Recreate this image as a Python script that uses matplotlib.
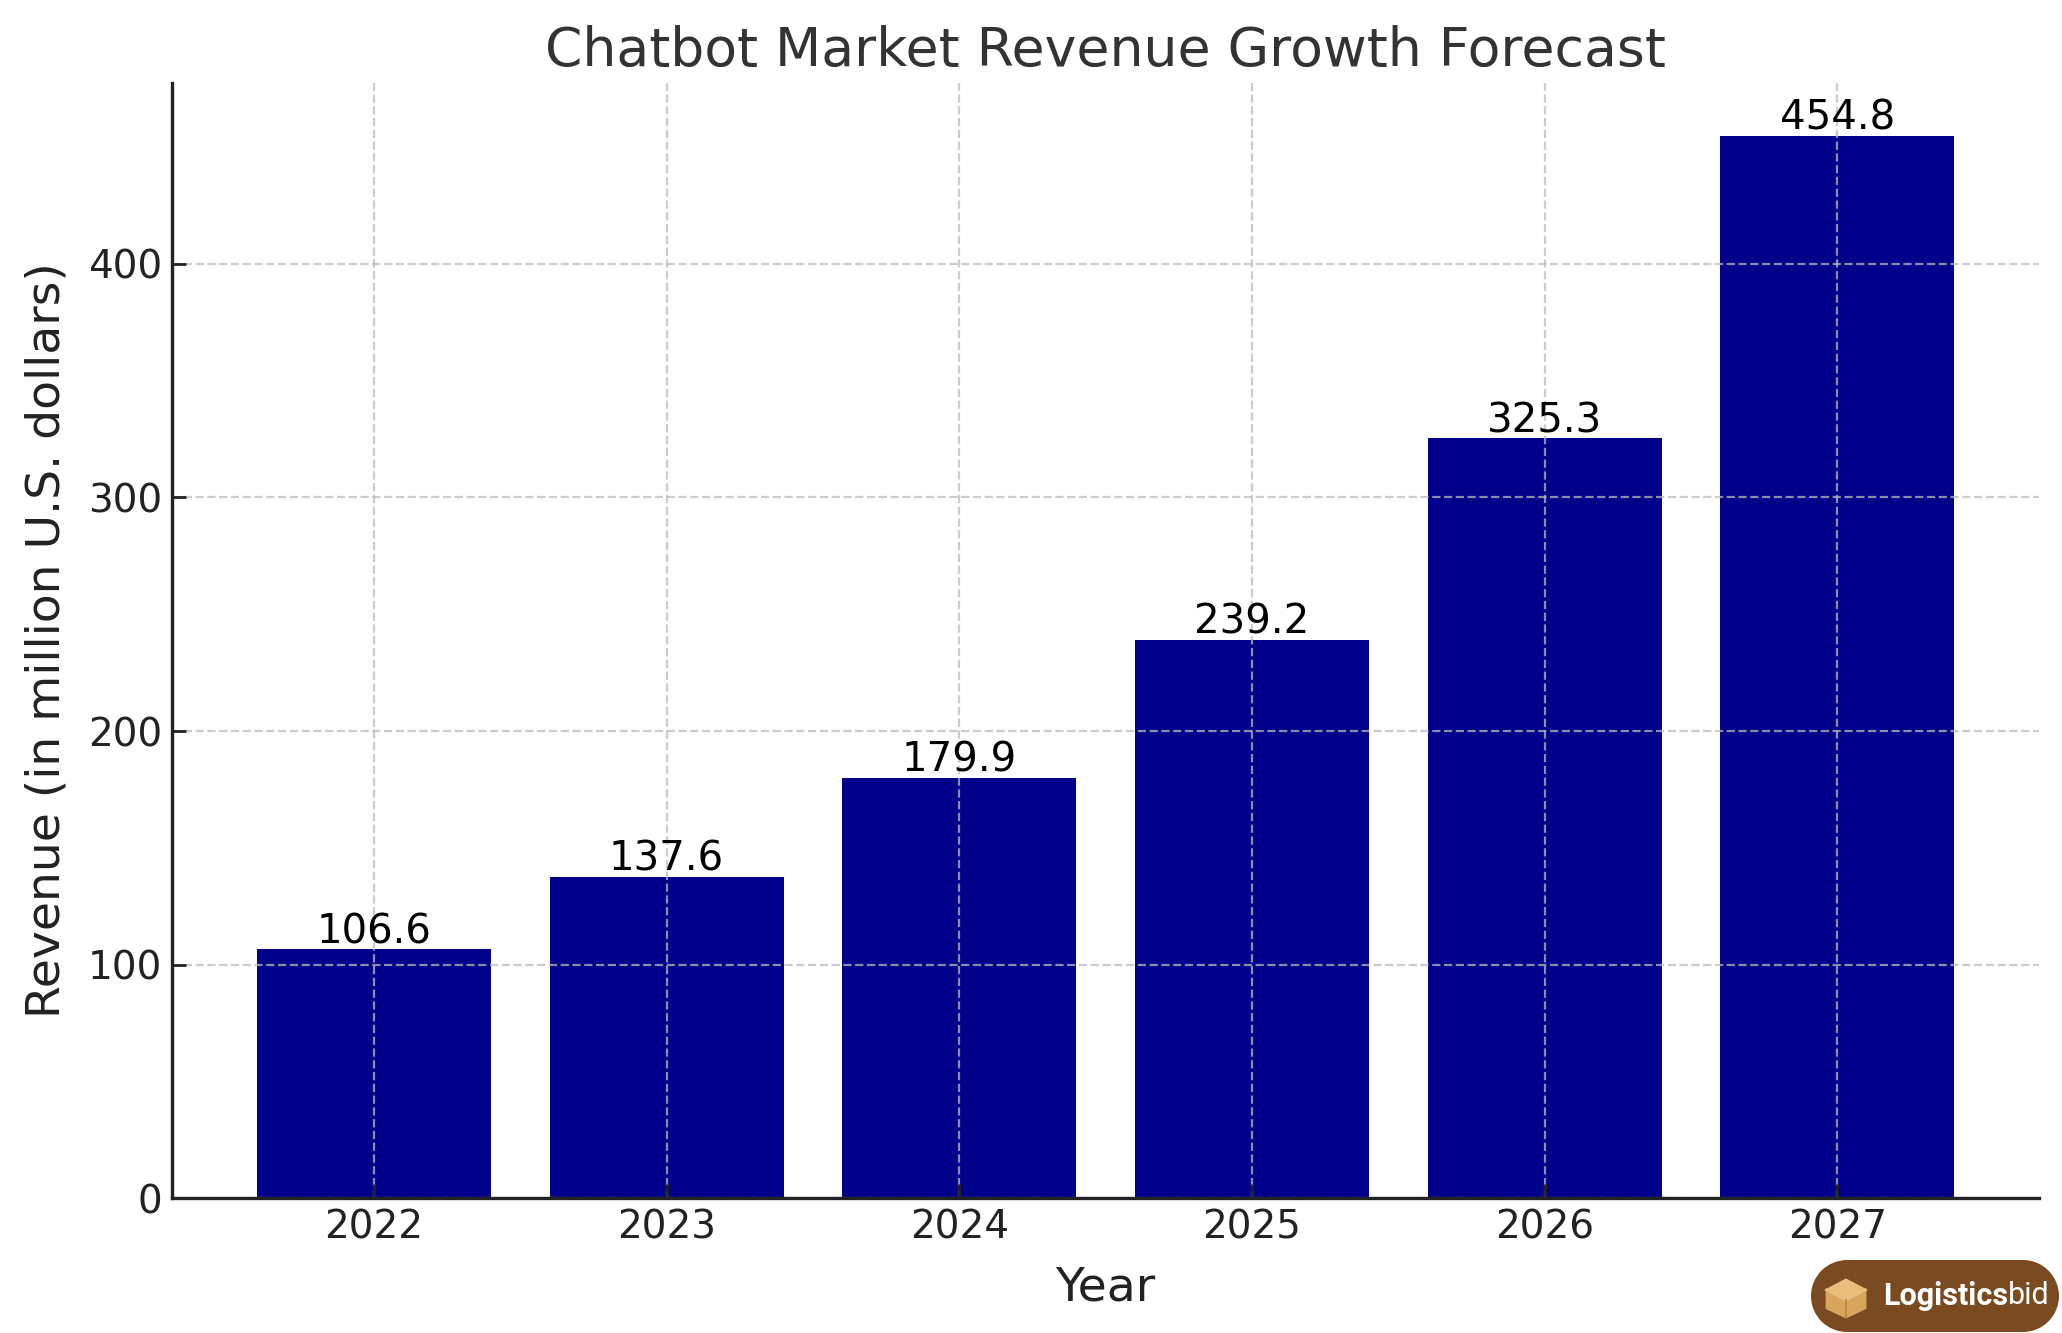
import matplotlib.pyplot as plt
from matplotlib.patches import Rectangle, Circle, Polygon

years = ["2022", "2023", "2024", "2025", "2026", "2027"]
revenue = [106.6, 137.6, 179.9, 239.2, 325.3, 454.8]
yticks = [0, 100, 200, 300, 400]

fig = plt.figure(figsize=(10.31, 6.665), dpi=200)
ax = fig.add_axes([0.0834, 0.101, 0.9056, 0.837])

bars = ax.bar(years, revenue, width=0.8, color="darkblue")
for b, v in zip(bars, revenue):
    ax.annotate(f"{v}", (b.get_x() + b.get_width() / 2, v), xytext=(0, -1),
                textcoords="offset points", ha="center", va="bottom",
                fontsize=14.5, color="black")

ax.set_title("Chatbot Market Revenue Growth Forecast", fontsize=19.3, color="#333333")
ax.set_xlabel("Year", fontsize=17, color="#222222", labelpad=7)
ax.set_ylabel("Revenue (in million U.S. dollars)", fontsize=17, color="#222222", labelpad=6.5)
ax.set_yticks(yticks)
ax.tick_params(direction="in", labelsize=14, colors="#222222", length=5, width=1)
ax.grid(True, linestyle="--", color="#bbbbbb", alpha=0.75, linewidth=0.8)
for s in ["top", "right"]:
    ax.spines[s].set_visible(False)
for s in ["left", "bottom"]:
    ax.spines[s].set_linewidth(1.2)
    ax.spines[s].set_color("#222222")

# logo badge, bottom right (drawn in a pixel-sized axes)
brown = "#7a4a20"
lx = fig.add_axes([1811 / 2062, 1 / 1333, 248 / 2062, 72 / 1333])
lx.set_xlim(0, 248)
lx.set_ylim(0, 72)
lx.axis("off")
lx.add_patch(Rectangle((36, 0), 176, 72, color=brown, lw=0))
lx.add_patch(Circle((36, 36), 36, color=brown, lw=0))
lx.add_patch(Circle((212, 36), 36, color=brown, lw=0))
tan = "#d9a45c"
cx, cy = 35, 36
top = [(cx - 19, cy + 6), (cx, cy + 16), (cx + 19, cy + 6), (cx, cy - 4)]
body = [(cx - 19, cy + 6), (cx, cy - 4), (cx + 19, cy + 6),
        (cx + 19, cy - 12), (cx, cy - 21), (cx - 19, cy - 12)]
lx.add_patch(Polygon(body, closed=True, color=tan))
lx.add_patch(Polygon(top, closed=True, color="#e9bd7c"))
lx.plot([cx, cx], [cy - 4, cy - 21], color="#b98640", lw=0.6)
t = lx.text(72, 36, "Logistics", fontsize=11, fontweight="bold", color="white",
            family="Roboto", va="center", ha="left")
fig.canvas.draw()
bb = t.get_window_extent().transformed(lx.transData.inverted())
lx.text(bb.x1, 36, "bid", fontsize=11, color="white", family="Roboto",
        va="center", ha="left")

fig.savefig("out.png", dpi=200)
